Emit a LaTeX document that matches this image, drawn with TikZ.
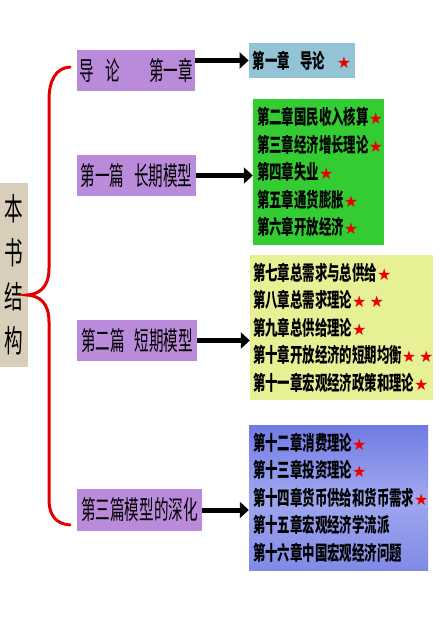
\documentclass[tikz,border=0pt]{standalone}
\usepackage{fontspec}
\usetikzlibrary{arrows.meta}
\newfontfamily\cjk[FakeStretch=0.62]{Noto Sans CJK SC}
\newfontfamily\cjkn[FakeStretch=0.56]{Noto Sans CJK SC}
\newfontfamily\cjkt[FakeStretch=0.6]{Noto Sans CJK SC}
\newfontfamily\symf{DejaVu Sans}
\definecolor{purp}{RGB}{187,139,219}
\definecolor{lblue}{RGB}{146,196,214}
\definecolor{lgreen}{RGB}{51,204,51}
\definecolor{lyel}{RGB}{232,240,150}
\definecolor{bluetop}{RGB}{112,122,226}
\definecolor{bluemid}{RGB}{160,168,240}
\definecolor{bluebot}{RGB}{128,138,230}
\definecolor{beige}{RGB}{216,206,186}
\definecolor{starred}{RGB}{235,0,0}
\definecolor{bracered}{RGB}{225,0,0}
\newcommand\rst{{\symf\fontsize{16}{16}\selectfont\color{starred}★}}
\begin{document}
\begin{tikzpicture}[x=1pt,y=-1pt,
  pbox/.style={fill=purp, inner sep=0pt, font=\cjkn\fontsize{26}{26}\selectfont},
  rbox/.style={inner xsep=4pt, inner ysep=0pt, align=left, font=\cjk\bfseries\fontsize{20}{27.5}\selectfont},
  arr/.style={line width=5pt, black, -{Triangle[length=9pt,width=16pt]}},
  bracel/.style={line width=3pt, bracered, line cap=round}]
\useasboundingbox (0,0) rectangle (440,620);
\fill[white] (0,0) rectangle (440,620);

% left title box
\node[fill=beige, minimum width=28pt, minimum height=184pt, inner sep=0pt, align=center,
      font=\cjkt\fontsize{31}{44}\selectfont] (L) at (14,275) {本\\书\\结\\构};

% brace
\draw[bracel] (70,67) .. controls (56,68) and (49,80) .. (49,100) -- (49,268)
  .. controls (49,287) and (40,294) .. (27,295)
  .. controls (40,296) and (49,303) .. (49,322) -- (49,500)
  .. controls (49,515) and (56,524) .. (70,525);

% purple boxes
\node[pbox, minimum width=118pt, minimum height=41pt] (P1) at (136,70.5) {导\hspace{12pt}论\hspace{29pt}第一章};
\node[pbox, minimum width=119pt, minimum height=41pt] (P2) at (136.5,175.5) {第一篇\hspace{10pt}长期模型};
\node[pbox, minimum width=120pt, minimum height=41pt] (P3) at (137,340.5) {第二篇\hspace{10pt}短期模型};
\node[pbox, minimum width=125pt, minimum height=42pt] (P4) at (139.5,510) {第三篇模型的深化};

% right boxes
\node[rbox, fill=lblue, minimum width=100pt, minimum height=35pt] (R1) at (302,60.5)
  {第一章\hspace{10pt}导论\hspace{12pt}\rst};
\node[rbox, fill=lgreen, text width=123pt, minimum height=146pt] (R2) at (318.5,172)
  {第二章国民收入核算\rst\\第三章经济增长理论\rst\\第四章失业\rst\\第五章通货膨胀\rst\\第六章开放经济\rst};
\node[rbox, fill=lyel, inner xsep=3pt, text width=177pt, minimum height=145pt] (R3) at (341.5,327.5)
  {第七章总需求与总供给\rst\\第八章总需求理论\rst\kern3pt\rst\\第九章总供给理论\rst\\第十章开放经济的短期均衡\rst\kern3pt\rst\\第十一章宏观经济政策和理论\rst};
\node[rbox, top color=bluetop, bottom color=bluebot, middle color=bluemid, text width=171pt, minimum height=145pt] (R4) at (338.5,497.5)
  {第十二章消费理论\rst\\第十三章投资理论\rst\\第十四章货币供给和货币需求\rst\\第十五章宏观经济学流派\\第十六章中国宏观经济问题};

% arrows
\draw[arr] (P1.east |- R1.west) -- (R1.west);
\draw[arr] (P2.east) -- (P2.east -| R2.west);
\draw[arr] (P3.east) -- (P3.east -| R3.west);
\draw[arr] (P4.east) -- (P4.east -| R4.west);
\end{tikzpicture}
\end{document}
